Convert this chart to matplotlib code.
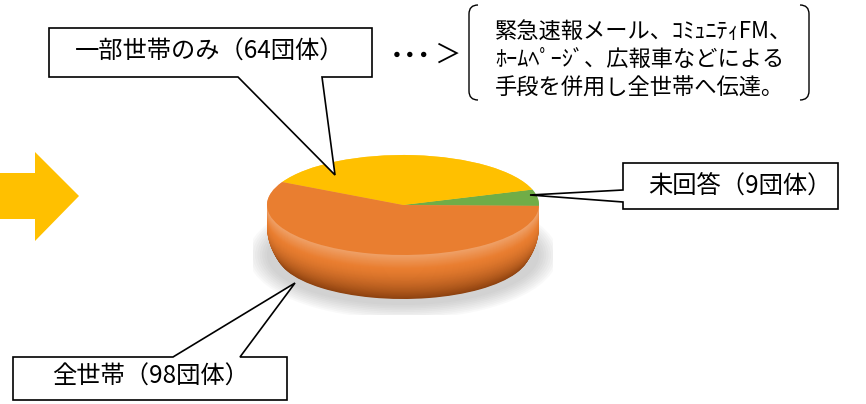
import matplotlib.pyplot as plt
import numpy as np
from matplotlib.patches import Polygon, Ellipse, PathPatch
from matplotlib.path import Path
from matplotlib.colors import to_rgb

plt.rcParams['font.family'] = ['Noto Sans CJK JP', 'DejaVu Sans']

# data
labels = ['全世帯', '一部世帯のみ', '未回答']
counts = [98, 64, 9]
top_colors = ['#E97E30', '#FFC000', '#70AD47']
side_colors = ['#8E4210', '#A07800', '#4A7230']
note_lines = ['緊急速報メール、ｺﾐｭﾆﾃｨFM、',
              'ﾎｰﾑﾍﾟｰｼﾞ、広報車などによる',
              '手段を併用し全世帯へ伝達。']

W, H = 866, 404
fig = plt.figure(figsize=(W / 100, H / 100), dpi=100)

# --- pie, drawn in its own axes and squashed into an ellipse ---
cx, cy, rx, ry = 403, 205, 136, 50
depth = 0.95
x0, x1, y0, y1 = -1.1, 1.1, -2.2, 1.1
left, right = cx + x0 * rx, cx + x1 * rx
top, bottom = cy - y1 * ry, cy - y0 * ry
pax = fig.add_axes([left / W, 1 - bottom / H, (right - left) / W, (bottom - top) / H])
pax.set_zorder(1)

order = [2, 1, 0]  # green, yellow, orange counter-clockwise
vals = [counts[i] for i in order]

# soft shadow
for k in range(9):
    pax.add_patch(Ellipse((0, -depth - 0.05), 2.0 + 0.035 * k, 2.0 + 0.07 * k,
                          color='#808080', alpha=0.045, lw=0))

# side (stacked layers, light rim at top -> dark at bottom, rounded lower edge)
for d in np.linspace(depth, 0.0, 50):
    t = d / depth
    r = 1 - 0.07 * max(0.0, (t - 0.45) / 0.55) ** 2
    cols = []
    for j in order:
        base = np.array(to_rgb(top_colors[j]))
        dark = np.array(to_rgb(side_colors[j]))
        light = base + (1 - base) * 0.28
        if t < 0.3:
            c = light + (base - light) * (t / 0.3)
        else:
            c = base + (dark - base) * ((t - 0.3) / 0.7) ** 1.3
        cols.append(np.clip(c, 0, 1))
    pax.pie(vals, colors=cols, startangle=-1, center=(0, -d), radius=r,
            wedgeprops=dict(linewidth=0))

# top face
pax.pie(vals, colors=[top_colors[j] for j in order], startangle=-1,
        wedgeprops=dict(linewidth=0))
pax.set_aspect('auto')
pax.set_xlim(x0, x1)
pax.set_ylim(y0, y1)
pax.axis('off')

# --- annotations in pixel coordinates ---
ax = fig.add_axes([0, 0, 1, 1])
ax.set_xlim(0, W)
ax.set_ylim(H, 0)
ax.axis('off')
ax.set_zorder(2)

# big arrow on the left
ax.add_patch(Polygon([(0, 173), (35, 173), (35, 152), (79, 196), (35, 241), (35, 219), (0, 219)],
                     closed=True, fc='#FFC000', ec='none'))


def callout(pts, text, tx, ty):
    ax.add_patch(Polygon(pts, closed=True, fc='white', ec='black', lw=1.2, joinstyle='miter'))
    ax.text(tx, ty, text, ha='center', va='center', fontsize=17.5)


callout([(49, 28), (372, 28), (372, 77), (322, 77), (335, 175), (238, 77), (49, 77)],
        f'{labels[1]}（{counts[1]}団体）', 210, 52)
callout([(623, 163), (838, 163), (838, 209), (623, 209), (623, 202), (530, 195), (623, 190)],
        f'{labels[2]}（{counts[2]}団体）', 740, 186)
callout([(13, 357), (173, 357), (295, 283), (240, 357), (287, 357), (287, 400), (13, 400)],
        f'{labels[0]}（{counts[0]}団体）', 151, 377)

# "・・・>" and bracketed note
ax.text(411, 57, '･･･', fontsize=20, fontweight='bold', ha='center', va='center')
ax.text(448, 55, '＞', fontsize=19, ha='center', va='center')

lb = Path([(478, 5), (469, 5), (469, 14), (469, 91), (469, 100), (478, 100)],
          [Path.MOVETO, Path.CURVE3, Path.CURVE3, Path.LINETO, Path.CURVE3, Path.CURVE3])
rb = Path([(800, 5), (809, 5), (809, 14), (809, 91), (809, 100), (800, 100)],
          [Path.MOVETO, Path.CURVE3, Path.CURVE3, Path.LINETO, Path.CURVE3, Path.CURVE3])
ax.add_patch(PathPatch(lb, fc='none', ec='black', lw=1.0))
ax.add_patch(PathPatch(rb, fc='none', ec='black', lw=1.0))

for i, line in enumerate(note_lines):
    ax.text(495, 31 + i * 28.5, line, fontsize=16, ha='left', va='center')

fig.savefig('out.png', dpi=100)
